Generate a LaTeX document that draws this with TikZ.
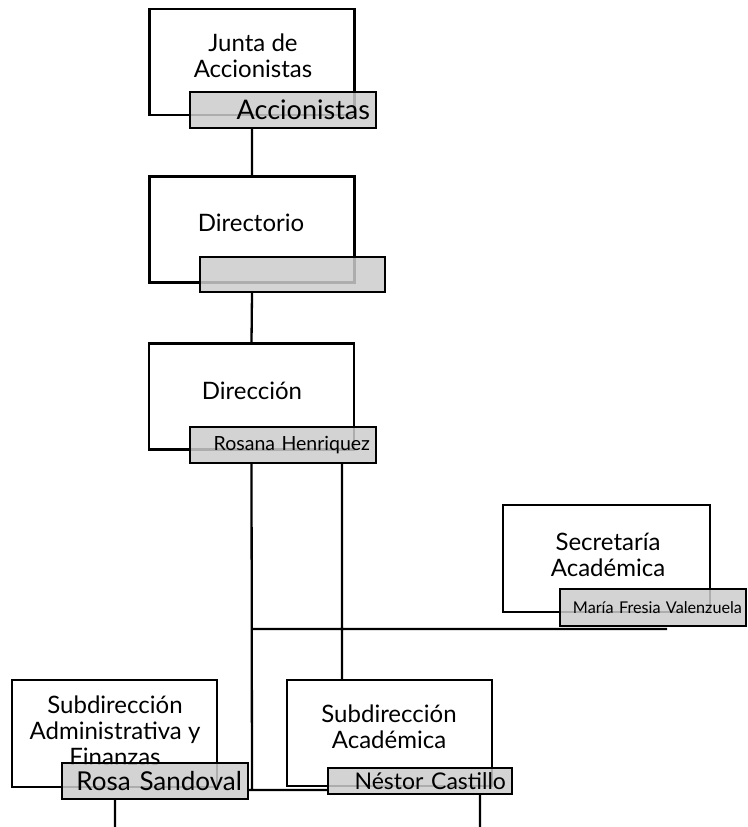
\documentclass[tikz,border=0pt]{standalone}
\usepackage{fontspec}
\setmainfont{Lato}
\tikzset{every picture/.style={line width=2.3pt}}

\begin{document}
\begin{tikzpicture}[x=1pt,y=-1pt,
    unitbox/.style={draw, fill=white, minimum width=205pt, minimum height=106pt},
    heading/.style={align=center, font=\fontsize{24}{26}\selectfont},
    person/.style={draw, fill=gray!40, fill opacity=0.85, text opacity=1,
        align=right, inner xsep=6pt, inner ysep=0pt, minimum height=36pt, text width=174pt}]
        \useasboundingbox (0,0) rectangle (747,827);
        % boxes
        \node[unitbox] (junta) at (252,62) {};
        \node[unitbox] (dir) at (252,229.5) {};
        \node[unitbox] (direc) at (251.5,396.5) {};
        \node[unitbox, minimum width=207pt, minimum height=107pt] (secr) at (606.5,558.5) {};
        \node[unitbox, minimum height=107pt] (admin) at (114.5,733.5) {};
        \node[unitbox] (acad) at (389.5,733) {};
        % titles
        \node[heading] (tjunta) at (253,56) {Junta de\\Accionistas};
        \node[heading, anchor=base] (tdir) at (251,231) {Directorio};
        \node[heading, anchor=base] (tdirec) at (252,399) {Dirección};
        \node[heading] (tsecr) at (608,555) {Secretaría\\Académica};
        \node[heading] (tadmin) at (115,731) {Subdirección\\Administrativa y\\Finanzas};
        \node[heading] (tacad) at (389,727) {Subdirección\\Académica};
        % names
        \node[person, font=\fontsize{27}{30}\selectfont] (acc) at (283,110) {Accionistas};
        \node[person, minimum height=35pt, text width=173pt] (blank) at (292.5,274.5) {};
        \node[person, font=\fontsize{19.5}{22}\selectfont] (rosana) at (283,445) {Rosana Henriquez};
        \node[person, minimum height=37pt, inner xsep=4pt, text width=178pt, font=\fontsize{16.2}{19}\selectfont] (maria) at (653,607.5) {\mbox{María Fresia Valenzuela}};
        \node[person, font=\fontsize{26}{29}\selectfont] (rosa) at (155,781) {Rosa Sandoval};
        \node[person, minimum height=26pt, text width=172pt, font=\fontsize{23}{25}\selectfont] (nestor) at (420,781) {Néstor Castillo};
        % lines
        \coordinate (trunk) at (252,790);
        \coordinate (acadin) at (342,680);
        \coordinate (secin) at (667,629);
        \coordinate (outA) at (115,827);
        \coordinate (outB) at (480,827);
        \draw
            (acc.south -| junta.south) -- (dir.north)
            (blank.south -| dir.south) -- (direc.north)
            (rosana.south -| direc.south) -- (trunk)
            (rosana.south -| acadin) -- (acadin)
            (direc.south |- secin) -- (secin)
            (rosa.east |- trunk) -- (nestor.west |- trunk)
            (rosa.south -| outA) -- (outA)
            (nestor.south -| outB) -- (outB)
            ;
    \end{tikzpicture}
\end{document}
